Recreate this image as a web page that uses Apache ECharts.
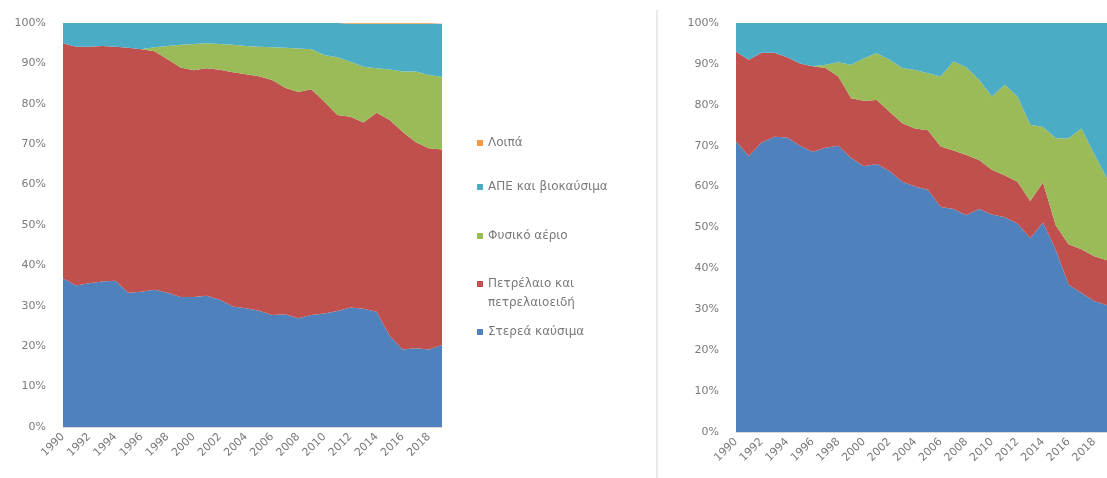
<!DOCTYPE html>
<html>
<head>
<meta charset="utf-8">
<script src="https://cdn.jsdelivr.net/npm/echarts@6/dist/echarts.min.js"></script>
<style>
  html, body { margin: 0; padding: 0; background: #ffffff; }
  #chart { width: 1107px; height: 478px; }
</style>
</head>
<body>
<div id="chart"></div>
<script>
// Years on the horizontal axis
const years = ['1990','1991','1992','1993','1994','1995','1996','1997','1998','1999',
               '2000','2001','2002','2003','2004','2005','2006','2007','2008','2009',
               '2010','2011','2012','2013','2014','2015','2016','2017','2018','2019'];

// Series names (stack order, bottom to top)
const nameSolid = 'Στερεά καύσιμα';
const nameOil   = 'Πετρέλαιο και πετρελαιοειδή';
const nameGas   = 'Φυσικό αέριο';
const nameRes   = 'ΑΠΕ και βιοκαύσιμα';
const nameOther = 'Λοιπά';

// Left panel: shares (%) per year
const leftSolid = [36.8,35.0,35.6,36.0,36.2,33.2,33.5,34.0,33.2,32.2,32.2,32.5,31.5,29.8,29.4,28.8,27.7,27.9,26.9,27.7,28.1,28.7,29.6,29.3,28.5,22.5,19.2,19.5,19.2,20.3];
const leftOil   = [58.2,59.1,58.5,58.3,57.9,60.7,60.0,59.0,57.8,56.8,56.1,56.3,56.9,58.0,57.9,58.0,58.2,56.1,56.0,55.9,52.4,48.5,47.2,46.1,49.3,53.5,53.8,51.0,49.8,48.4];
const leftGas   = [0,0,0,0,0,0,0,1.0,3.3,5.6,6.5,6.2,6.4,6.8,7.0,7.3,8.1,9.9,10.8,9.9,11.6,14.3,13.6,13.8,11.0,12.5,15.0,17.5,18.1,18.0];
const leftRes   = [5.0,5.9,5.9,5.7,5.9,6.1,6.5,6.0,5.7,5.4,5.2,5.0,5.2,5.4,5.7,5.9,6.0,6.1,6.3,6.5,7.9,8.5,9.4,10.6,11.0,11.3,11.8,11.8,12.7,13.1];
const leftOther = [0,0,0,0,0,0,0,0,0,0,0,0,0,0,0,0,0,0,0,0,0,0,0.2,0.2,0.2,0.2,0.2,0.2,0.2,0.2];

// Right panel: shares (%) per year
const rightSolid = [71.0,67.5,70.8,72.2,72.0,70.0,68.5,69.5,70.0,67.0,65.0,65.5,63.8,61.2,60.0,59.2,55.0,54.5,53.0,54.5,53.2,52.5,51.0,47.4,51.2,44.5,36.0,34.0,32.0,31.0];
const rightOil   = [22.0,23.5,21.9,20.5,19.6,20.1,20.9,19.5,16.9,14.6,16.0,15.7,14.5,14.3,14.2,14.6,14.8,14.3,14.7,12.0,10.9,10.3,10.2,9.1,9.8,6.0,9.9,10.7,11.0,11.0];
const rightGas   = [0,0,0,0,0,0,0,0.8,3.5,8.2,10.4,11.4,12.7,13.5,14.3,13.9,17.1,21.8,21.5,19.6,17.9,22.1,20.8,18.6,13.6,21.3,25.9,29.5,25.0,20.0];
const rightRes   = [7.0,9.0,7.3,7.3,8.4,9.9,10.6,10.2,9.6,10.2,8.6,7.4,9.0,11.0,11.5,12.3,13.1,9.4,10.8,13.9,18.0,15.1,18.0,24.9,25.4,28.2,28.2,25.8,32.0,38.0];
const rightOther = [0,0,0,0,0,0,0,0,0,0,0,0,0,0,0,0,0,0,0,0,0,0,0,0,0,0,0,0,0,0];

// Y-axis ticks
const yTicks = [0,10,20,30,40,50,60,70,80,90,100];

const colors = {};
colors[nameSolid] = '#4F81BD';
colors[nameOil]   = '#C0504D';
colors[nameGas]   = '#9BBB59';
colors[nameRes]   = '#4BACC6';
colors[nameOther] = '#F79646';

const labelColor = '#7a7a7a';
const fontFamily = '"DejaVu Sans", sans-serif';

function areaSeries(name, data, idx, stackId) {
  return {
    name: name,
    type: 'line',
    stack: stackId,
    xAxisIndex: idx,
    yAxisIndex: idx,
    data: data,
    symbol: 'none',
    smooth: false,
    lineStyle: { width: 0 },
    areaStyle: { color: colors[name], opacity: 1 },
    itemStyle: { color: colors[name] },
    emphasis: { disabled: true },
    silent: true
  };
}

function xAxisFor(idx) {
  return {
    type: 'category',
    gridIndex: idx,
    data: years,
    boundaryGap: false,
    axisLine: { show: true, lineStyle: { color: '#d9d9d9' } },
    axisTick: { show: false },
    axisLabel: {
      interval: 1,
      rotate: 45,
      margin: 8,
      color: labelColor,
      fontFamily: fontFamily,
      fontSize: 11
    },
    splitLine: { show: false }
  };
}

function yAxisFor(idx) {
  return {
    type: 'value',
    gridIndex: idx,
    min: yTicks[0],
    max: yTicks[yTicks.length - 1],
    interval: yTicks[1] - yTicks[0],
    axisLine: { show: false },
    axisTick: { show: false },
    splitLine: { show: false },
    axisLabel: {
      formatter: '{value}%',
      margin: 17,
      color: labelColor,
      fontFamily: fontFamily,
      fontSize: 11
    }
  };
}

function legendItem(name, top, extra) {
  const base = {
    data: [name],
    orient: 'vertical',
    left: 477,
    top: top,
    padding: 0,
    icon: 'rect',
    itemWidth: 6,
    itemHeight: 6,
    selectedMode: false,
    itemStyle: { borderWidth: 0 },
    textStyle: { color: labelColor, fontFamily: fontFamily, fontSize: 12, lineHeight: 14 }
  };
  return Object.assign(base, extra || {});
}

const chart = echarts.init(document.getElementById('chart'), null, { renderer: 'canvas' });

chart.setOption({
  backgroundColor: '#ffffff',
  animation: false,
  grid: [
    { left: 63, top: 23, width: 379, height: 404 },
    { left: 736, top: 23, width: 382, height: 409 }
  ],
  xAxis: [xAxisFor(0), xAxisFor(1)],
  yAxis: [yAxisFor(0), yAxisFor(1)],
  legend: [
    legendItem(nameOther, 136),
    legendItem(nameRes, 180),
    legendItem(nameGas, 229),
    legendItem(nameOil, 274.5, {
      icon: 'path://M0,0H6V6H0Z M0,25L6,25Z',
      itemHeight: 25,
      formatter: function () { return 'Πετρέλαιο και\nπετρελαιοειδή'; },
      textStyle: { color: labelColor, fontFamily: fontFamily, fontSize: 12, lineHeight: 19 }
    }),
    legendItem(nameSolid, 325)
  ],
  graphic: [
    {
      type: 'line',
      silent: true,
      shape: { x1: 657, y1: 10, x2: 657, y2: 478 },
      style: { stroke: '#e3e3e3', lineWidth: 1.5 }
    }
  ],
  series: [
    areaSeries(nameSolid, leftSolid, 0, 'left'),
    areaSeries(nameOil, leftOil, 0, 'left'),
    areaSeries(nameGas, leftGas, 0, 'left'),
    areaSeries(nameRes, leftRes, 0, 'left'),
    areaSeries(nameOther, leftOther, 0, 'left'),
    areaSeries(nameSolid, rightSolid, 1, 'right'),
    areaSeries(nameOil, rightOil, 1, 'right'),
    areaSeries(nameGas, rightGas, 1, 'right'),
    areaSeries(nameRes, rightRes, 1, 'right'),
    areaSeries(nameOther, rightOther, 1, 'right')
  ]
});
</script>
</body>
</html>
